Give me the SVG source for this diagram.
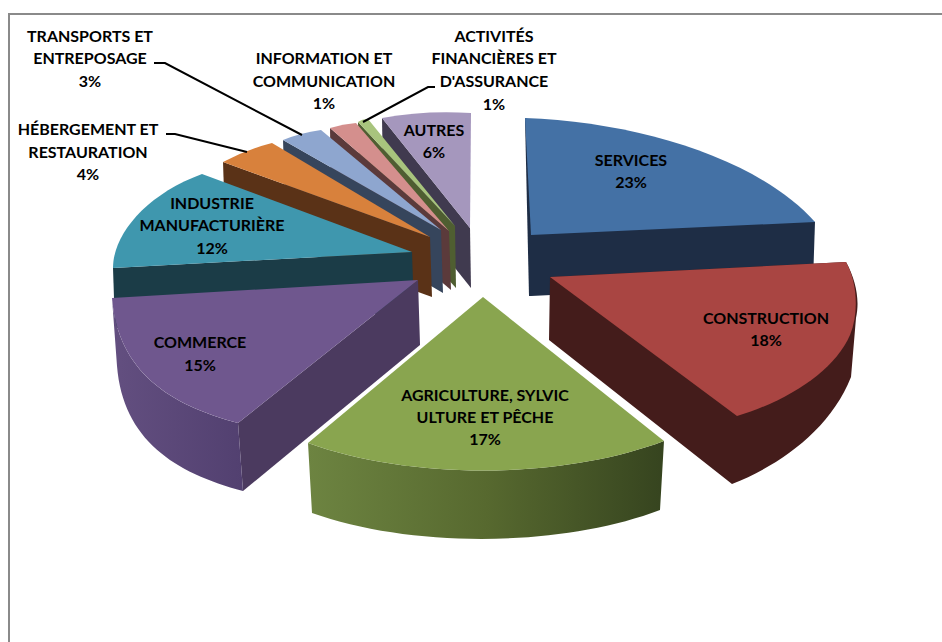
<svg xmlns="http://www.w3.org/2000/svg" width="942" height="642" viewBox="0 0 942 642">
<style>
text { font-family: Lato, "Liberation Sans", sans-serif; font-weight: bold; font-size: 16px; fill: #000; text-anchor: middle; }
.lead { fill: none; stroke: #000; stroke-width: 2; }
.frame { fill: none; stroke: #8a8a8a; stroke-width: 2; }
</style>
<defs>
<linearGradient id="agriSide" x1="0" y1="0" x2="1" y2="0">
<stop offset="0" stop-color="#6d8441"/>
<stop offset="0.5" stop-color="#57692f"/>
<stop offset="1" stop-color="#36441f"/>
</linearGradient>
<linearGradient id="commWall" x1="0" y1="0" x2="1" y2="0">
<stop offset="0" stop-color="#634f80"/>
<stop offset="1" stop-color="#524070"/>
</linearGradient>
</defs>
<rect width="942" height="642" fill="#fff"/>
<path class="frame" d="M9,642 L9,14 L942,14"/>

<g id="autres">
<polygon points="382,118 470,228 471,288 383,178" fill="#403a4f"/>
<path d="M382,118 Q425,110 471,113 L470,228 Z" fill="#a597bd"/>
<text x="434" y="136">AUTRES</text>
<text x="434" y="158">6%</text>
</g>

<g id="financieres">
<polygon points="358,122 455,226 456,288 359,182" fill="#4f5e31"/>
<path d="M358,122 Q362,119 368,119 L455,226 Z" fill="#a8c47d"/>
<text x="494" y="42">ACTIVITÉS</text>
<text x="494" y="64">FINANCIÈRES ET</text>
<text x="494" y="87">D'ASSURANCE</text>
<text x="494" y="110">1%</text>
</g>

<g id="information">
<polygon points="330,128 449,231 451,290 331,188" fill="#5b3a3b"/>
<path d="M330,128 Q343,124 356,123 L449,231 Z" fill="#d48f8d"/>
<text x="324" y="64">INFORMATION ET</text>
<text x="324" y="87">COMMUNICATION</text>
<text x="324" y="109">1%</text>
</g>

<g id="transports">
<polygon points="283,140 441,230 443,293 285,200" fill="#36455c"/>
<path d="M283,140 Q300,133 321,130 L441,230 Z" fill="#8ea6cf"/>
<text x="90" y="42">TRANSPORTS ET</text>
<text x="90" y="64">ENTREPOSAGE</text>
<text x="90" y="87">3%</text>
</g>

<g id="hebergement">
<polygon points="223,162 430,237 432,297 225,222" fill="#5a3217"/>
<path d="M223,162 Q245,150 272,143 L430,237 Z" fill="#d8813c"/>
<text x="88" y="135">HÉBERGEMENT ET</text>
<text x="88" y="158">RESTAURATION</text>
<text x="88" y="180">4%</text>
</g>

<g id="industrie">
<polygon points="113,268 412,252 414,312 115,328" fill="#1b3c47"/>
<path d="M113,268 C113,235 145,195 202,174 L412,252 Z" fill="#3f97ae"/>
<text x="212" y="209">INDUSTRIE</text>
<text x="212" y="231">MANUFACTURIÈRE</text>
<text x="212" y="254">12%</text>
</g>

<g id="services">
<polygon points="525,118 815,222 813,282 531,296 529,296" fill="#1e2d45"/>
<path d="M525,118 C640,122 760,160 815,222 L531,235 Z" fill="#4471a5"/>
<text x="631" y="166">SERVICES</text>
<text x="631" y="188">23%</text>
</g>

<g id="commerce">
<polygon points="418,280 420,345 243,491 238,423" fill="#4b3a5f"/>
<path d="M112,298 C118,372 170,405 238,423 L243,491 C175,473 123,440 117,366 Z" fill="url(#commWall)"/>
<path d="M112,298 L418,280 L238,423 C170,405 118,372 112,298 Z" fill="#6f578e"/>
<text x="200" y="348">COMMERCE</text>
<text x="200" y="371">15%</text>
</g>

<g id="construction">
<path d="M550,277 L846,262 C856,280 860,300 856,318 L851,377 C830,430 780,465 732,484 L549,340 Z" fill="#441c1b"/>
<path d="M550,277 L846,262 C856,280 860,310 850,335 C835,370 790,400 737,416 Z" fill="#a94542"/>
<text x="766" y="324">CONSTRUCTION</text>
<text x="766" y="346">18%</text>
</g>

<g id="agriculture">
<path d="M308,443 C410,480 560,480 664,441 L660,510 C560,548 410,548 312,513 Z" fill="url(#agriSide)"/>
<path d="M483,297 L664,441 C560,480 410,480 308,443 Z" fill="#89a54f"/>
<text x="485" y="401">AGRICULTURE, SYLVIC</text>
<text x="485" y="423">ULTURE ET PÊCHE</text>
<text x="485" y="445">17%</text>
</g>

<g id="connectors">
<path class="lead" d="M154,63 L165,63 L302,135"/>
<path class="lead" d="M166,134 L175,134 L247,152"/>
<path class="lead" d="M435,87 L428,87 L363,122"/>
</g>
</svg>
